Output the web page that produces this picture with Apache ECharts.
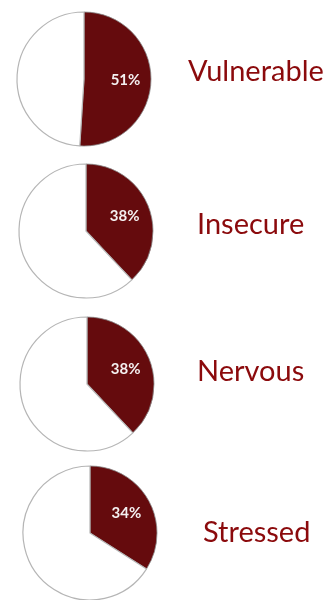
<!DOCTYPE html>
<html>
<head>
<meta charset="utf-8">
<script src="https://cdn.jsdelivr.net/npm/echarts@6/dist/echarts.min.js"></script>
<style>
  html, body { margin: 0; padding: 0; background: #ffffff; }
  #chart { width: 328px; height: 600px; }
</style>
</head>
<body>
<div id="chart"></div>
<script>
// Share of respondents reporting each feeling (percent)
const categories = ['Vulnerable', 'Insecure', 'Nervous', 'Stressed'];
const shares = [51, 38, 38, 34];

// Layout of each pie and its caption
const pieCenters = [[84, 79], [86, 231], [87, 384], [90, 533]];
const pieRadius = 67;
const captionPos = [[188, 72], [197, 225], [197, 372], [203, 533]];
const captionSize = 29;
const labelPush = 5; // nudge value labels a little toward the rim

const sliceColor = '#650b0d';
const captionColor = '#8b0a0c';

const chart = echarts.init(document.getElementById('chart'), null, { renderer: 'canvas' });

const series = categories.map((name, i) => {
  // direction of the slice's middle, measured clockwise from 12 o'clock
  const mid = (shares[i] / 100) * Math.PI;
  const off = [labelPush * Math.sin(mid), -labelPush * Math.cos(mid)];
  return {
    type: 'pie',
    name: name,
    center: pieCenters[i],
    radius: [0, pieRadius],
    startAngle: 90,
    clockwise: true,
    silent: true,
    animation: false,
    label: { show: false },
    labelLine: { show: false },
    data: [
      {
        value: shares[i],
        name: name,
        itemStyle: { color: sliceColor, borderColor: '#8a8a8a', borderWidth: 0.8 },
        label: {
          show: true,
          position: 'inside',
          formatter: '{c}%',
          offset: off,
          color: '#f4f0f0',
          fontFamily: 'Lato',
          fontWeight: 'bold',
          fontSize: 15
        }
      },
      {
        value: 100 - shares[i],
        name: 'Other',
        itemStyle: { color: '#ffffff', borderColor: '#b5b5b5', borderWidth: 1.2 }
      }
    ]
  };
});

const titles = categories.map((name, i) => ({
  text: name,
  left: captionPos[i][0],
  top: captionPos[i][1] - captionSize / 2,
  padding: 0,
  textStyle: {
    fontFamily: 'Lato',
    fontWeight: 'normal',
    fontSize: captionSize,
    lineHeight: captionSize,
    color: captionColor
  }
}));

chart.setOption({
  backgroundColor: '#ffffff',
  animation: false,
  title: titles,
  series: series
});
</script>
</body>
</html>
